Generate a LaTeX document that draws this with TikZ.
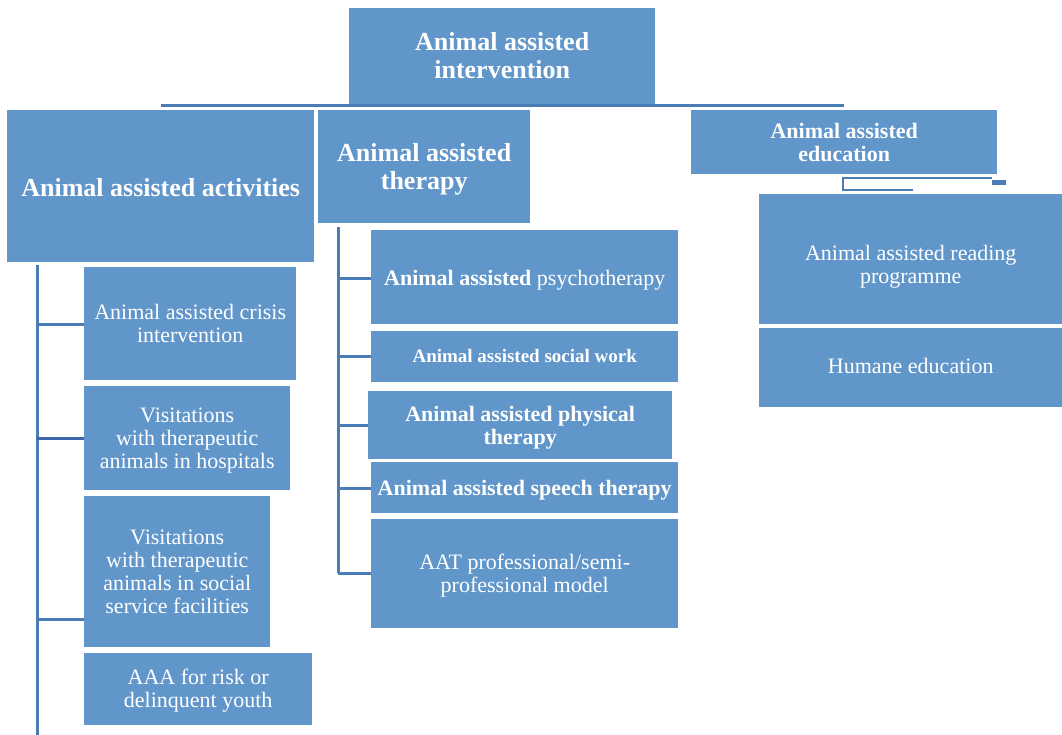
\documentclass[tikz,border=0pt]{standalone}
\usepackage{fontspec}
\setmainfont{Liberation Serif}
\definecolor{boxblue}{RGB}{97,150,202}
\definecolor{linecol}{RGB}{74,124,182}
\definecolor{linedark}{RGB}{62,102,170}
\tikzset{
  box/.style={fill=boxblue, inner sep=0pt, anchor=north west},
  txt/.style={text=white, inner sep=0pt, align=center},
  conn/.style={draw=linecol, line width=3pt},
  thin conn/.style={draw=linecol, line width=1.8pt},
  title/.style={txt, font=\fontsize{26}{28}\selectfont\bfseries},
  subtitle/.style={txt, font=\fontsize{22}{23}\selectfont\bfseries},
  reg/.style={txt, font=\fontsize{22}{23}\selectfont},
  bld/.style={txt, font=\fontsize{22}{23}\selectfont\bfseries},
  small bld/.style={txt, font=\fontsize{19}{20}\selectfont\bfseries},
}
\begin{document}
\begin{tikzpicture}[x=1pt,y=-1pt]
\useasboundingbox (0,0) rectangle (1062,735);
% boxes
\node[box, minimum width=306pt, minimum height=97pt] (top) at (349,8) {};
\node[box, minimum width=307pt, minimum height=152pt] (aaa) at (7,110) {};
\node[box, minimum width=212pt, minimum height=113pt] (aat) at (318,110) {};
\node[box, minimum width=306pt, minimum height=64pt] (aae) at (691,110) {};
\node[box, minimum width=212pt, minimum height=113pt] (a1) at (84,267) {};
\node[box, minimum width=206pt, minimum height=104pt] (a2) at (84,386) {};
\node[box, minimum width=186pt, minimum height=151pt] (a3) at (84,496) {};
\node[box, minimum width=228pt, minimum height=72pt] (a4) at (84,653) {};
\node[box, minimum width=307pt, minimum height=94pt] (t1) at (371,230) {};
\node[box, minimum width=307pt, minimum height=51pt] (t2) at (371,331) {};
\node[box, minimum width=304pt, minimum height=68pt] (t3) at (368,391) {};
\node[box, minimum width=307pt, minimum height=51pt] (t4) at (371,462) {};
\node[box, minimum width=307pt, minimum height=109pt] (t5) at (371,519) {};
\node[box, minimum width=303pt, minimum height=130pt] (e1) at (759,194) {};
\node[box, minimum width=303pt, minimum height=79pt] (e2) at (759,328) {};
% texts
\node[title] (topt) at ([yshift=1pt]top.center) {Animal assisted\\intervention};
\node[title] (aaat) at ([yshift=-1pt]aaa.center) {Animal assisted activities};
\node[title] (aatt) at ([yshift=-3pt]aat.center) {Animal assisted\\therapy};
\node[subtitle] (aaet) at (aae.center) {Animal assisted\\education};
\node[reg] (a1t) at (a1.center) {Animal assisted crisis\\intervention};
\node[reg] (a2t) at ([yshift=-2pt]a2.center) {Visitations\\with therapeutic\\animals in hospitals};
\node[reg] (a3t) at (a3.center) {Visitations\\with therapeutic\\animals in social\\service facilities};
\node[reg] (a4t) at ([yshift=-1pt]a4.center) {AAA for risk or\\delinquent youth};
\node[reg] (t1t) at ([yshift=-3pt]t1.center) {{\bfseries Animal assisted} psychotherapy};
\node[small bld] (t2t) at ([yshift=1pt]t2.center) {Animal assisted social work};
\node[bld] (t3t) at ([yshift=-3pt]t3.center) {Animal assisted physical\\therapy};
\node[bld] (t4t) at ([yshift=-3pt]t4.center) {Animal assisted speech therapy};
\node[reg] (t5t) at ([yshift=-2pt]t5.center) {AAT professional/semi-\\professional model};
\node[reg] (e1t) at ([yshift=-8pt]e1.center) {Animal assisted reading\\programme};
\node[reg] (e2t) at ([yshift=2pt]e2.center) {Humane education};
% connectors: top level
\draw[conn] (aaa.north |- 0,106) -- (aae.north |- 0,106);
% left column
\coordinate (lbot) at (37,735);
\draw[conn] (37,265) -- (lbot);
\draw[conn] (37,324) -- (a1.west |- 0,324);
\draw[draw=linedark, line width=3pt] (37,438) -- (a2.west |- 0,438);
\draw[conn] (37,619) -- (a3.west |- 0,619);
% middle column
\draw[conn] (338,227) -- (338,573);
\draw[conn] (338,278) -- (t1.west |- 0,278);
\draw[conn] (338,356) -- (t2.west |- 0,356);
\draw[conn] (338,425) -- (t3.west |- 0,425);
\draw[conn] (338,488) -- (t4.west |- 0,488);
\draw[conn] (338,573) -- (t5.west |- 0,573);
% right column connector
\draw[thin conn] (992,178) -- (843,178) -- (843,190) -- (913,190);
\fill[linecol] (992,180) rectangle (1006,185);
\end{tikzpicture}
\end{document}
